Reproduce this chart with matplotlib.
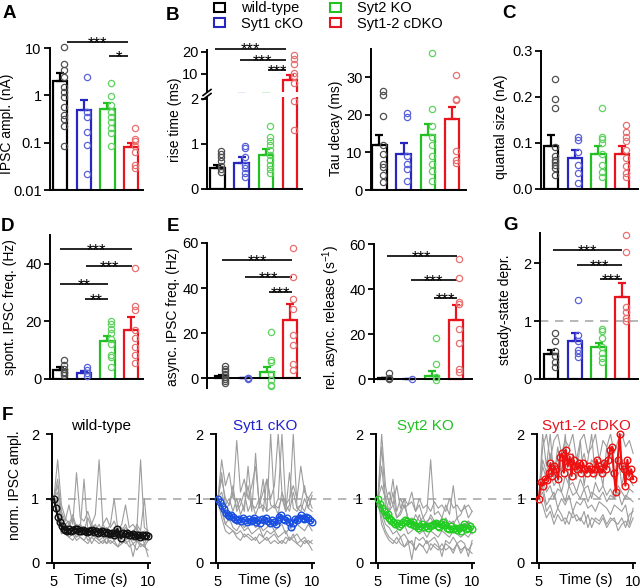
import numpy as np
import matplotlib
matplotlib.use('Agg')
import matplotlib.pyplot as plt
from matplotlib.lines import Line2D
from matplotlib.patches import Patch
from matplotlib.ticker import NullLocator
from matplotlib.transforms import blended_transform_factory

plt.rcParams['font.family'] = ['Liberation Sans', 'DejaVu Sans']
plt.rcParams['mathtext.fontset'] = 'custom'
plt.rcParams['mathtext.rm'] = 'Liberation Sans'
plt.rcParams['mathtext.it'] = 'Liberation Sans:italic'

# groups
groups = ['wild-type', 'Syt1 cKO', 'Syt2 KO', 'Syt1-2 cDKO']
colors = ['#000000', '#2626c0', '#22c022', '#e8141e']
pt_colors = ['#505050', '#5a62d8', '#5fd35f', '#e87070']
trace_colors = ['#111111', '#1a4fe0', '#22cc22', '#ee1111']

# A: IPSC amplitude (nA)
amp_mean = [2.0, 0.48, 0.52, 0.082]
amp_sem = [1.0, 0.32, 0.17, 0.018]
amp_pts = [[10.5, 4.7, 3.4, 2.45, 1.5, 1.2, 0.92, 0.57, 0.38, 0.32, 0.22, 0.085],
           [2.4, 0.45, 0.35, 0.17, 0.09, 0.022],
           [1.8, 0.95, 0.62, 0.45, 0.35, 0.28, 0.2, 0.16, 0.083],
           [0.2, 0.12, 0.11, 0.083, 0.064, 0.034, 0.029]]

# B: rise time (ms) and tau decay (ms)
rise_mean = [0.47, 0.58, 0.76, 7.3]
rise_sem = [0.06, 0.13, 0.13, 2.3]
rise_pts = [[0.85, 0.78, 0.7, 0.62, 0.5, 0.45, 0.38],
            [0.95, 0.9, 0.71, 0.53, 0.47, 0.36, 0.27],
            [1.4, 1.16, 1.07, 0.98, 0.87, 0.76, 0.64, 0.53, 0.44, 0.36],
            [18.6, 16.8, 14.5, 10.5, 9.1, 5.9, 1.96, 1.31]]

tau_mean = [12.0, 9.6, 14.5, 18.9]
tau_sem = [2.6, 2.9, 3.0, 3.1]
tau_pts = [[26.4, 25.3, 19.7, 12.0, 9.5, 7.0, 6.0, 4.0, 2.0],
           [20.5, 19.5, 9.0, 7.0, 5.5, 2.4],
           [36.5, 21.5, 17.0, 14.0, 12.0, 9.0, 7.0, 5.0, 2.5],
           [30.5, 24.2, 24.0, 10.4, 8.0, 7.2]]

# C: quantal size (nA)
q_mean = [0.093, 0.067, 0.076, 0.076]
q_sem = [0.024, 0.018, 0.018, 0.018]
q_pts = [[0.239, 0.195, 0.177, 0.092, 0.071, 0.063, 0.058, 0.053, 0.045, 0.031],
         [0.114, 0.107, 0.081, 0.053, 0.035, 0.014],
         [0.177, 0.114, 0.108, 0.1, 0.076, 0.053, 0.038, 0.027],
         [0.139, 0.125, 0.114, 0.105, 0.085, 0.067, 0.049, 0.035, 0.027]]

# D: spontaneous IPSC frequency (Hz)
sp_mean = [3.0, 2.0, 13.3, 17.0]
sp_sem = [1.0, 0.8, 1.7, 4.5]
sp_pts = [[6.5, 5.0, 3.5, 2.5, 2.0, 1.5],
          [4.0, 3.0, 2.0, 1.2],
          [20.0, 19.0, 17.5, 16.0, 14.0, 12.0, 8.5, 7.5, 4.0],
          [38.5, 25.3, 24.0, 17.0, 14.2, 11.2, 8.3, 5.5]]

# E: async IPSC freq (Hz) and relative async release (1/s)
as_mean = [0.8, 0.1, 2.5, 25.6]
as_sem = [0.7, 0.1, 2.5, 7.4]
as_pts = [[5.2, 4.1, 3.0, 1.9, 0.7, -0.4, -1.5, -2.2],
          [0.2, 0.0, -0.2],
          [20.3, 8.1, 7.0, 1.9, -0.7, -3.0, -3.7],
          [58.0, 44.7, 35.1, 30.7, 19.0, 14.8, 6.4, 3.7]]

rel_mean = [0.3, 0.05, 1.5, 26.2]
rel_sem = [0.3, 0.05, 2.0, 6.8]
rel_pts = [[2.5, 0.5, 0.0],
           [0.0],
           [18.4, 6.5, 1.0, -0.5],
           [53.2, 45.0, 34.4, 33.2, 22.1, 16.1, 4.4, 3.0]]

# G: steady-state depression
ss_mean = [0.43, 0.66, 0.55, 1.42]
ss_sem = [0.07, 0.13, 0.07, 0.23]
ss_pts = [[0.8, 0.65, 0.48, 0.4, 0.3, 0.2],
          [1.37, 0.76, 0.65, 0.5, 0.45, 0.38],
          [0.87, 0.82, 0.7, 0.55, 0.45, 0.37, 0.3],
          [2.48, 2.2, 1.25, 1.15, 1.05, 1.0]]

# F: normalized IPSC amplitude during 10 Hz train, mean traces (50 stimuli)
wt_mean_tr = [1.0, 0.85, 0.72, 0.63, 0.57, 0.53, 0.51, 0.50, 0.52, 0.50,
              0.51, 0.53, 0.52, 0.50, 0.49, 0.51, 0.50, 0.48, 0.50, 0.49,
              0.51, 0.48, 0.50, 0.47, 0.48, 0.50, 0.46, 0.48, 0.47, 0.45,
              0.46, 0.44, 0.47, 0.53, 0.45, 0.38, 0.47, 0.45, 0.46, 0.44,
              0.43, 0.45, 0.42, 0.44, 0.43, 0.41, 0.43, 0.42, 0.43, 0.42]
s1_mean_tr = [1.0, 0.95, 0.88, 0.83, 0.78, 0.75, 0.73, 0.74, 0.72, 0.68,
              0.66, 0.68, 0.65, 0.70, 0.66, 0.64, 0.68, 0.65, 0.67, 0.70,
              0.64, 0.66, 0.62, 0.68, 0.66, 0.70, 0.65, 0.62, 0.66, 0.64,
              0.60, 0.67, 0.72, 0.74, 0.68, 0.66, 0.70, 0.63, 0.56, 0.62,
              0.68, 0.66, 0.70, 0.74, 0.70, 0.68, 0.72, 0.70, 0.66, 0.64]
s2_mean_tr = [1.0, 0.92, 0.86, 0.80, 0.74, 0.76, 0.70, 0.67, 0.64, 0.60,
              0.62, 0.58, 0.60, 0.63, 0.66, 0.65, 0.62, 0.60, 0.64, 0.59,
              0.57, 0.55, 0.58, 0.60, 0.56, 0.58, 0.55, 0.57, 0.59, 0.60,
              0.62, 0.58, 0.56, 0.60, 0.63, 0.59, 0.55, 0.53, 0.57, 0.52,
              0.55, 0.51, 0.54, 0.50, 0.56, 0.60, 0.53, 0.55, 0.57, 0.52]
dko_mean_tr = [1.0, 1.25, 1.20, 1.30, 1.28, 1.40, 1.55, 1.35, 1.50, 1.45,
               1.30, 1.65, 1.70, 1.40, 1.75, 1.50, 1.65, 1.35, 1.60, 1.50,
               1.45, 1.55, 1.40, 1.55, 1.45, 1.40, 1.50, 1.45, 1.40, 1.45,
               1.60, 1.50, 1.45, 1.40, 1.55, 1.45, 1.60, 1.75, 1.80, 1.40,
               1.10, 1.60, 2.00, 1.50, 1.45, 1.20, 1.60, 1.35, 1.45, 1.30]

# F: individual cells (gray), every other stimulus
wt_cells = [
    [1.0, 1.6, 0.9, 0.7, 0.6, 0.75, 0.55, 0.6, 0.5, 0.7, 0.55, 0.5, 0.45, 0.6, 0.5, 0.45, 0.55, 0.5, 0.45, 0.5, 0.4, 0.45, 0.5, 0.45, 0.4, 0.45],
    [1.0, 0.8, 0.55, 0.45, 0.4, 0.45, 0.35, 0.4, 0.35, 0.3, 0.4, 0.35, 0.3, 0.35, 0.3, 0.35, 0.3, 0.25, 0.3, 0.35, 0.25, 0.3, 0.2, 0.3, 0.25, 0.2],
    [1.0, 1.2, 0.8, 0.65, 0.9, 0.6, 1.4, 0.7, 0.65, 0.8, 0.6, 0.75, 1.6, 0.6, 0.7, 0.55, 0.65, 0.5, 0.6, 0.9, 0.55, 0.6, 0.5, 1.6, 0.55, 0.5],
    [1.0, 0.7, 0.45, 0.5, 0.4, 0.35, 0.45, 0.4, 0.35, 0.45, 0.3, 0.4, 0.35, 0.3, 0.4, 0.3, 0.35, 0.25, 0.4, 0.3, 0.35, 0.1, 0.35, 0.3, 0.25, 0.35],
    [1.0, 0.9, 0.65, 0.55, 0.6, 0.5, 0.55, 0.6, 0.45, 0.55, 0.5, 0.6, 0.45, 0.5, 0.55, 0.5, 0.45, 0.55, 0.5, 0.6, 0.45, 0.5, 0.55, 0.4, 0.5, 0.45],
    [1.0, 1.3, 0.75, 0.6, 0.55, 0.7, 0.5, 0.55, 1.3, 0.5, 0.6, 0.55, 0.45, 0.55, 0.5, 0.6, 1.0, 0.5, 0.45, 0.55, 0.5, 0.45, 0.6, 0.5, 1.0, 0.35],
    [1.0, 1.1, 0.7, 0.6, 0.65, 0.5, 0.6, 0.55, 0.5, 0.45, 0.55, 0.5, 0.6, 0.45, 0.4, 0.5, 0.45, 0.4, 0.55, 0.4, 0.45, 0.35, 0.4, 0.45, 0.3, 0.4],
    [1.0, 0.95, 0.6, 0.5, 0.45, 0.5, 0.4, 0.45, 0.5, 0.35, 0.4, 0.45, 0.35, 0.4, 0.3, 0.45, 0.35, 0.4, 0.3, 0.35, 0.4, 0.3, 0.35, 0.25, 0.3, 0.1]]
s1_cells = [
    [1.0, 1.6, 1.2, 1.4, 1.0, 1.9, 1.1, 1.3, 1.0, 1.2, 1.5, 0.9, 1.1, 1.3, 1.0, 1.2, 2.0, 1.1, 0.9, 1.0, 1.2, 1.0, 1.5, 1.1, 1.0, 1.1],
    [1.0, 0.8, 0.6, 0.7, 0.55, 0.5, 0.6, 0.5, 0.55, 0.45, 0.5, 0.55, 0.4, 0.5, 0.45, 0.5, 0.4, 0.45, 0.5, 0.35, 0.4, 0.45, 0.35, 0.4, 0.3, 0.35],
    [1.0, 0.7, 0.5, 0.45, 0.5, 0.4, 0.35, 0.45, 0.4, 0.35, 0.4, 0.3, 0.35, 0.4, 0.3, 0.35, 0.3, 0.35, 0.3, 0.4, 0.35, 0.3, 0.25, 0.35, 0.3, 0.2],
    [1.0, 1.4, 0.9, 1.0, 0.8, 1.0, 0.75, 0.9, 1.2, 0.8, 1.7, 0.85, 0.9, 0.8, 2.0, 0.9, 0.85, 1.0, 0.8, 0.9, 2.0, 0.85, 0.8, 1.0, 0.85, 0.8],
    [1.0, 0.9, 0.75, 0.65, 0.7, 0.6, 0.65, 0.55, 0.6, 0.65, 0.55, 0.6, 0.5, 0.55, 0.6, 0.5, 0.55, 0.6, 0.45, 0.55, 0.5, 0.6, 0.55, 0.5, 0.6, 0.5],
    [1.0, 1.1, 0.85, 0.9, 1.2, 0.8, 0.9, 1.1, 0.8, 0.95, 0.75, 0.9, 1.3, 0.8, 0.85, 0.9, 0.75, 1.1, 0.8, 1.4, 0.85, 0.8, 0.9, 1.2, 0.85, 1.05],
    [1.0, 1.3, 1.0, 0.9, 1.1, 0.85, 1.0, 0.8, 1.5, 0.9, 0.85, 1.0, 0.8, 1.3, 0.9, 0.85, 1.0, 2.0, 0.9, 0.8, 1.1, 0.85, 0.9, 0.8, 1.0, 0.85],
    [1.0, 0.85, 0.6, 0.55, 0.5, 0.45, 0.5, 0.4, 0.45, 0.4, 0.35, 0.45, 0.4, 0.35, 0.4, 0.45, 0.35, 0.3, 0.4, 0.35, 0.45, 0.3, 0.35, 0.3, 0.35, 0.3]]
s2_cells = [
    [1.0, 2.0, 1.2, 0.9, 1.3, 0.8, 1.0, 0.85, 0.9, 1.1, 0.8, 0.9, 0.7, 0.8, 1.6, 0.75, 0.8, 0.7, 0.9, 0.75, 1.2, 0.7, 0.75, 0.9, 0.7, 0.8],
    [1.0, 0.7, 0.5, 0.4, 0.35, 0.3, 0.4, 0.25, 0.3, 0.35, 0.2, 0.3, 0.25, 0.35, 0.2, 0.3, 0.25, 0.2, 0.3, 0.25, 0.2, 0.3, 0.15, 0.25, 0.2, 0.15],
    [1.0, 1.5, 0.9, 0.8, 1.1, 0.7, 0.75, 0.9, 0.7, 0.6, 0.75, 0.65, 0.7, 0.6, 0.75, 0.65, 0.6, 0.7, 0.55, 0.65, 0.6, 0.7, 0.55, 0.6, 0.65, 0.6],
    [1.0, 0.8, 0.6, 0.55, 0.45, 0.5, 0.4, 0.45, 0.35, 0.05, 0.4, 0.35, 0.4, 0.3, 0.35, 0.4, 0.3, 0.1, 0.35, 0.3, 0.4, 0.3, 0.35, 0.3, 0.1, 0.35],
    [1.0, 1.2, 1.0, 1.1, 0.9, 1.2, 0.85, 1.0, 0.9, 0.95, 0.8, 1.0, 0.85, 0.9, 0.8, 0.95, 0.85, 0.9, 0.8, 1.0, 0.85, 0.9, 0.8, 0.85, 0.9, 0.8],
    [1.0, 0.9, 0.7, 0.6, 0.65, 0.55, 0.5, 0.6, 0.45, 0.5, 0.55, 0.45, 0.5, 0.4, 0.5, 0.45, 0.4, 0.5, 0.45, 0.4, 0.5, 0.45, 0.4, 0.45, 0.4, 0.5],
    [1.0, 1.8, 1.0, 0.8, 0.9, 0.7, 0.8, 1.0, 0.65, 0.7, 0.6, 0.75, 0.55, 0.65, 0.7, 0.6, 0.65, 0.55, 0.7, 0.6, 0.65, 0.5, 0.6, 0.55, 0.65, 0.45],
    [1.0, 0.6, 0.45, 0.35, 0.3, 0.4, 0.3, 0.25, 0.35, 0.3, 0.2, 0.3, 0.25, 0.15, 0.3, 0.25, 0.2, 0.3, 0.2, 0.25, 0.15, 0.3, 0.2, 0.25, 0.2, 0.3]]
dko_cells = [
    [1.0, 1.8, 2.0, 1.6, 1.9, 2.0, 1.7, 1.9, 1.8, 2.0, 1.6, 1.9, 2.0, 1.7, 1.8, 2.0, 1.6, 1.9, 1.8, 2.0, 1.7, 1.9, 2.0, 1.8, 1.9, 1.7],
    [1.0, 1.3, 1.1, 1.2, 1.0, 1.15, 1.1, 0.95, 1.2, 1.05, 1.1, 1.0, 1.15, 0.95, 1.1, 1.05, 1.0, 1.1, 0.95, 1.05, 1.0, 1.1, 0.9, 1.05, 1.0, 0.95],
    [1.0, 0.9, 0.7, 0.8, 0.6, 0.75, 0.65, 0.7, 0.6, 0.8, 0.65, 0.7, 0.6, 0.75, 0.55, 0.7, 0.65, 0.75, 0.6, 0.7, 0.65, 0.6, 0.7, 0.55, 0.75, 0.8],
    [1.0, 1.6, 1.4, 1.7, 1.5, 1.6, 1.4, 1.8, 1.5, 1.6, 1.4, 1.5, 1.7, 1.4, 1.6, 1.5, 1.4, 1.6, 1.5, 1.7, 1.4, 1.5, 1.6, 1.4, 1.5, 1.4],
    [1.0, 1.2, 0.9, 1.0, 1.1, 0.85, 1.0, 0.9, 1.05, 0.8, 0.95, 0.9, 1.0, 0.85, 0.9, 0.8, 0.95, 0.9, 0.85, 0.75, 0.9, 0.85, 0.8, 0.9, 0.6, 0.85],
    [1.0, 2.0, 1.5, 2.0, 1.3, 1.8, 1.4, 2.0, 1.2, 1.7, 1.3, 1.9, 1.2, 1.6, 2.0, 1.3, 1.5, 1.2, 1.8, 1.4, 1.3, 1.7, 1.2, 1.5, 1.3, 1.2],
    [1.0, 1.5, 1.3, 1.4, 1.2, 1.3, 1.1, 1.35, 1.2, 1.25, 1.1, 1.3, 1.15, 1.2, 1.0, 1.25, 1.1, 1.2, 1.05, 1.15, 1.0, 1.2, 1.1, 1.0, 1.15, 1.1],
    [1.0, 1.1, 0.8, 0.9, 0.7, 0.85, 0.75, 0.6, 0.8, 0.7, 0.75, 0.65, 0.8, 0.55, 0.7, 0.65, 0.6, 0.7, 0.55, 0.65, 0.7, 0.5, 0.6, 0.65, 0.55, 0.7]]

W, H = 640, 588
fig = plt.figure(figsize=(6.4, 5.88), dpi=100)


def px_axes(x0, y0, x1, y1):
    # axes from pixel box (left, top, right, bottom)
    return fig.add_axes([x0 / W, 1 - y1 / H, (x1 - x0) / W, (y1 - y0) / H])


def fp(x, y):
    return x / W, 1 - y / H


def style(ax, xlim):
    for s in ['top', 'right']:
        ax.spines[s].set_visible(False)
    for s in ['left', 'bottom']:
        ax.spines[s].set_linewidth(1.4)
    ax.tick_params(axis='y', direction='out', length=4, width=1.3, labelsize=10.5, pad=2)
    ax.tick_params(axis='x', bottom=False, labelbottom=False)
    ax.set_xlim(*xlim)
    ax.patch.set_alpha(0)


def bars(ax, means, sems, pts, bottom=0.0, lo=None, hi=None):
    for i in range(4):
        ax.bar(i, means[i] - bottom, bottom=bottom, width=0.6, facecolor='none',
               edgecolor=colors[i], linewidth=1.6, zorder=2)
        ax.errorbar(i, means[i], yerr=[[0], [sems[i]]], fmt='none', ecolor=colors[i],
                    elinewidth=1.6, capsize=3, capthick=1.6, zorder=2)
        y = np.array(pts[i], dtype=float)
        if lo is not None:
            y = y[y >= lo]
        if hi is not None:
            y = y[y < hi]
        ax.plot(np.full(len(y), i + 0.15), y, 'o', ms=4.5, mfc='none',
                mec=pt_colors[i], mew=0.9, zorder=3, clip_on=False)


def sig(ax, x0, x1, y, txt):
    ax.plot([x0, x1], [y, y], color='black', lw=1.2, clip_on=False, solid_capstyle='butt')
    ax.annotate(txt, ((x0 + x1) / 2, y), xytext=(0, -4.2), textcoords='offset points',
                ha='center', va='baseline', fontsize=12, annotation_clip=False)


def ylab(text, xr, yc):
    fig.text(xr / W, 1 - yc / H, text, rotation=90, ha='right', va='center', fontsize=10)


def letter(t, x, y):
    fig.text(x / W, 1 - y / H, t, fontsize=13.5, fontweight='bold', ha='left', va='center')


# ---- A ----
axA = px_axes(50, 48, 143, 190)
style(axA, (-0.42, 3.5))
axA.set_yscale('log')
axA.set_ylim(0.01, 10)
bars(axA, amp_mean, amp_sem, amp_pts, bottom=0.01)
axA.set_yticks([0.01, 0.1, 1, 10])
axA.set_yticklabels(['0.01', '0.1', '1', '10'])
axA.yaxis.set_minor_locator(NullLocator())
sig(axA, 0.3, 2.87, 13.4, '***')
sig(axA, 2.07, 2.87, 6.8, '*')
ylab('IPSC ampl. (nA)', 14, 124)

# ---- B rise time (broken axis) ----
axBu = px_axes(207, 50, 302, 92)
axBl = px_axes(207, 97, 302, 189)
style(axBu, (-0.43, 3.49))
style(axBl, (-0.43, 3.49))
axBu.spines['bottom'].set_visible(False)
axBu.set_ylim(1.8, 20.9)
axBl.set_ylim(0, 2.04)
bars(axBu, rise_mean, rise_sem, rise_pts, lo=2)
bars(axBl, rise_mean, rise_sem, rise_pts, hi=2)
axBu.set_yticks([10, 20])
axBl.set_yticks([0, 1, 2])
for yy in (92.5, 96.5):
    x0, y0 = fp(203, yy + 3)
    x1, y1 = fp(211, yy - 3)
    fig.add_artist(Line2D([x0, x1], [y0, y1], color='black', lw=1.2, transform=fig.transFigure))
sig(axBu, -0.1, 2.83, 21.5, '***')
sig(axBu, 0.93, 2.83, 16.3, '***')
sig(axBu, 2.09, 2.83, 11.8, '***')
ylab('rise time (ms)', 182, 120)

# ---- B tau decay ----
axT = px_axes(371, 49, 466, 190)
style(axT, (-0.35, 3.57))
axT.set_ylim(0, 37.5)
bars(axT, tau_mean, tau_sem, tau_pts)
axT.set_yticks([0, 10, 20, 30])
ylab('Tau decay (ms)', 343, 128)

# ---- C ----
axC = px_axes(541, 51, 638, 189)
style(axC, (-0.42, 3.67))
axC.set_ylim(0, 0.3)
bars(axC, q_mean, q_sem, q_pts)
axC.set_yticks([0, 0.1, 0.2, 0.3])
axC.set_yticklabels(['0.0', '0.1', '0.2', '0.3'])
ylab('quantal size (nA)', 508, 127)

# ---- D ----
axD = px_axes(50, 235, 143, 379)
style(axD, (-0.42, 3.5))
axD.set_ylim(0, 50)
bars(axD, sp_mean, sp_sem, sp_pts)
axD.set_yticks([0, 20, 40])
sig(axD, 0.0, 3.04, 45, '***')
sig(axD, 1.1, 3.04, 39.2, '***')
sig(axD, 0.0, 2.03, 33, '**')
sig(axD, 1.05, 2.03, 27.8, '**')
ylab('spont. IPSC freq. (Hz)', 17, 307)

# ---- E async freq ----
axE1 = px_axes(207, 243, 300, 388)
style(axE1, (-0.64, 3.44))
axE1.set_ylim(-4.4, 60)
axE1.spines['bottom'].set_position(('data', 0))
bars(axE1, as_mean, as_sem, as_pts)
axE1.set_yticks([0, 20, 40, 60])
sig(axE1, 0.02, 3.09, 52.4, '***')
sig(axE1, 1.04, 3.09, 44.9, '***')
sig(axE1, 2.07, 3.09, 38.2, '***')
ylab('async. IPSC freq. (Hz)', 180, 317)

# ---- E relative async release ----
axE2 = px_axes(374, 244, 472, 382)
style(axE2, (-0.49, 3.7))
axE2.set_ylim(-1.3, 60)
axE2.spines['bottom'].set_position(('data', 0))
bars(axE2, rel_mean, rel_sem, rel_pts)
axE2.set_yticks([0, 20, 40, 60])
sig(axE2, 0.06, 3.04, 54.7, '***')
sig(axE2, 1.09, 3.04, 44, '***')
sig(axE2, 2.07, 3.04, 36, '***')
ylab('rel. async. release (s$^{-1}$)', 342, 317)

# ---- G ----
axG = px_axes(540, 233, 638, 379)
style(axG, (-0.47, 3.66))
axG.set_ylim(0, 2.52)
axG.axhline(1, color='#aaaaaa', lw=1.2, dashes=(5, 4), zorder=1)
bars(axG, ss_mean, ss_sem, ss_pts)
axG.set_yticks([0, 1, 2])
sig(axG, 0.08, 3.0, 2.22, '***')
sig(axG, 1.08, 3.0, 1.97, '***')
sig(axG, 2.05, 3.0, 1.72, '***')
ylab('steady-state depr.', 512, 310)

# ---- F ----
t_mean = np.linspace(5, 10, 50)
t_cell = np.linspace(5, 10, 26)
f_means = [wt_mean_tr, s1_mean_tr, s2_mean_tr, dko_mean_tr]
f_cells = [wt_cells, s1_cells, s2_cells, dko_cells]
f_lefts = [52, 216, 376, 537]
title_cols = ['#000000', '#2020d0', '#22c022', '#e8141e']
for k in range(4):
    ax = px_axes(f_lefts[k], 434, f_lefts[k] + 98, 563)
    for s in ['top', 'right']:
        ax.spines[s].set_visible(False)
    for s in ['left', 'bottom']:
        ax.spines[s].set_linewidth(1.4)
    ax.patch.set_alpha(0)
    ax.set_xlim(4.9, 10.1)
    ax.set_ylim(0, 2)
    for c in f_cells[k]:
        ax.plot(t_cell, c, color='#9d9d9d', lw=0.8, zorder=1)
    ax.plot(t_mean, f_means[k], '-o', color=trace_colors[k], lw=1.5, ms=4.8,
            mfc='none', mew=1.0, zorder=3, clip_on=False)
    ax.set_xticks([5, 10])
    ax.set_yticks([0, 1, 2])
    ax.tick_params(direction='out', length=4, width=1.3, labelsize=10.5, pad=5)
    ax.set_xlabel('Time (s)', fontsize=10.5, labelpad=-12)
    ax.set_title(groups[k], color=title_cols[k], fontsize=11, pad=3)
    if k == 0:
        axF0 = ax

# dashed line at 1 across all F panels
btr = blended_transform_factory(fig.transFigure, axF0.transData)
fig.add_artist(Line2D([53 / W, 1.0], [1, 1], color='#aaaaaa', lw=1.2, dashes=(5, 4),
                      transform=btr, zorder=-1))
ylab('norm. IPSC ampl.', 22, 485)

# legend
handles = [Patch(facecolor='white', edgecolor=c, linewidth=1.5) for c in colors]
fig.legend(handles, groups, loc='upper left', bbox_to_anchor=(213 / W, 1.0), ncol=2,
           frameon=False, fontsize=10.5, handlelength=0.75, handleheight=0.6,
           handletextpad=1.1, columnspacing=1.8, labelspacing=0.1, borderpad=0.1,
           borderaxespad=0)

# panel letters
letter('A', 3, 14)
letter('B', 166, 15)
letter('C', 502, 13)
letter('D', 1, 227)
letter('E', 167, 227)
letter('G', 503, 225)
letter('F', 2, 416)

fig.savefig('out.png', dpi=100)
